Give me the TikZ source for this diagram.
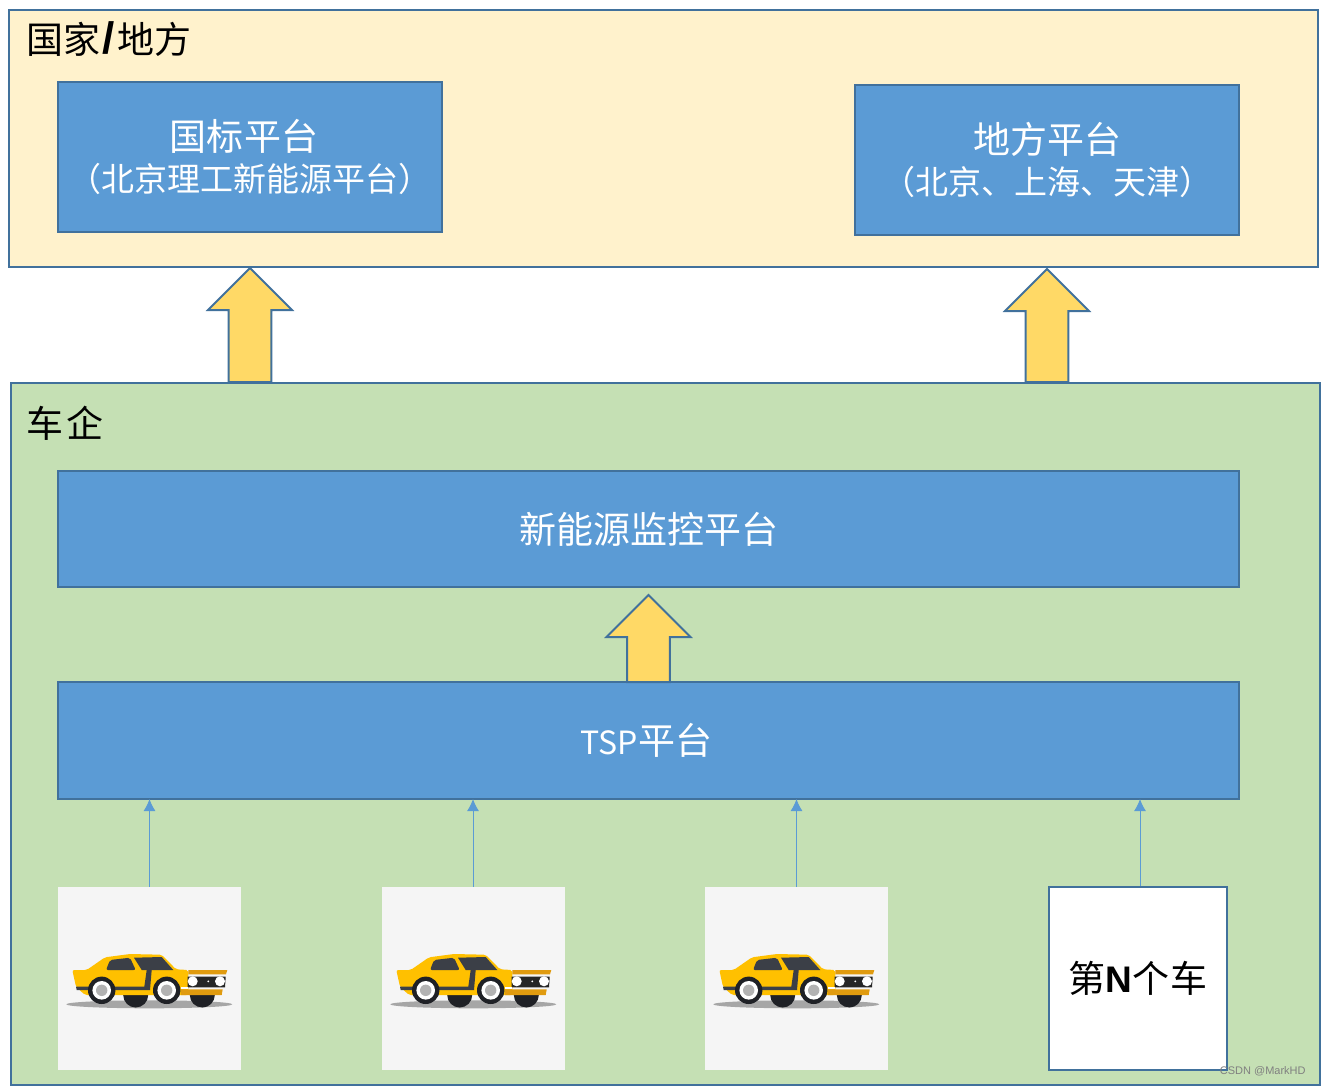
\documentclass[tikz,border=0pt]{standalone}
\usepackage{fontspec}
\setmainfont{Noto Sans CJK SC}
\newfontfamily\arialfont{Liberation Sans}
\usepackage{tikz}
\usetikzlibrary{arrows.meta}
\usetikzlibrary{shapes.arrows}
\definecolor{boxblue}{HTML}{5B9BD5}
\definecolor{edgeblue}{HTML}{41719C}
\definecolor{paleyellow}{HTML}{FFF2CC}
\definecolor{palegreen}{HTML}{C5E0B4}
\definecolor{arrowyellow}{HTML}{FFD966}
\definecolor{cargray}{HTML}{F5F5F5}
\definecolor{caryellow}{HTML}{FFC000}
\definecolor{carorange}{HTML}{E09B0F}
\definecolor{cardark}{HTML}{3B3F47}
\definecolor{tyre}{HTML}{1F2126}
\tikzset{
  area/.style = {draw = edgeblue, line width = 1pt},
  platform/.style = {area, fill = boxblue, text = white, align = center, inner sep = 0pt, outer sep = 0pt},
  carbox/.style = {minimum width = 91.5pt, minimum height = 91.5pt, inner sep = 0pt},
  bigarrow/.style = {area, fill = arrowyellow, single arrow, shape border rotate = 90, inner xsep = 10.2pt, inner ysep = 0pt, outer sep = 0pt,
    minimum width = 41pt, single arrow head extend = 10.3pt, single arrow tip angle = 90, single arrow head indent = 0pt, anchor = tip},
  carline/.style = {draw = boxblue, line width = 0.5pt, -{Latex[length = 6pt, width = 6pt]}},
  big/.style = {font = \fontsize{18.5}{22}\selectfont},
  label/.style = {anchor = west, big, inner sep = 0pt},
  car/.pic = {
    \fill[gray!70] (91.3,117.3) ellipse [x radius = 83, y radius = 4];
    \fill[tyre] (65.2,108) arc (180:0:12.5) -- cycle;
    \fill[tyre] (131.8,108) arc (180:0:12.5) -- cycle;
    \fill[caryellow, rounded corners = 1pt] (14.3,83) -- (28.7,83) -- (47,70.3) -- (72,67) -- (103.7,67.7) -- (118,82.3) -- (130.3,83)
      -- (130.3,108) -- (27,108) -- (18,99.7) -- cycle;
    \fill[cardark, rounded corners = 1pt] (48,83) -- (52,73) -- (72,70.7) -- (77.7,83) -- cycle;
    \fill[cardark] (76,70.7) -- (83.7,83) -- (88.7,83) -- (86.3,99.7) -- (18,99.7) -- (18.7,103) -- (92,103) -- (93.7,83)
      -- (115.3,83) -- (103.7,70) -- cycle;
    \fill[carorange] (130.3,83) -- (169.3,83) -- (168,87.3) -- (130.3,87.3) -- cycle;
    \fill[black!85] (129.7,89.7) -- (167.7,89.7) -- (167,100.3) -- (129.7,100.3) -- cycle;
    \fill[white] (123,100.3) rectangle (130.3,102.3);
    \fill[carorange] (123,102.3) -- (164.7,102.3) -- (163.7,108) -- (123,108) -- cycle;
    \fill[white] (134.7,94.3) circle (5);
    \fill[white] (162,94.3) circle (5);
    \fill[white] (150.3,94.3) circle (1);
    \fill[tyre] (43.7,103.3) circle (13.7);
    \fill[white] (43.7,103.3) circle (9.3);
    \fill[gray!60] (43.7,103.3) circle (5.7);
    \fill[tyre] (108.7,103.3) circle (13.7);
    \fill[white] (108.7,103.3) circle (9.3);
    \fill[gray!60] (108.7,103.3) circle (5.7);
  }
}

\begin{document}
\begin{tikzpicture}[x = 0.5pt, y = -0.5pt]
\useasboundingbox (0,0) rectangle (1321,1086);

\draw[area, fill = paleyellow] (9,10) rectangle (1318,267);
\draw[area, fill = palegreen] (11,383) rectangle (1320,1085);
\node[label] (guojia) at (26,39) {国家\hspace{1pt}{\arialfont\bfseries\fontsize{22}{22}\selectfont /}\hspace{1.5pt}地方};
\node[label] (cheqi) at (26,423) {车\hspace{1.5pt}企};

\node[platform, minimum width = 192pt, minimum height = 75pt] (guobiao) at (250,157) {{\fontsize{18.5}{24}\selectfont 国标平台\hspace{6pt}\mbox{}}\\[4pt]{\fontsize{16.5}{22}\selectfont （北京理工新能源平台）}};
\node[platform, minimum width = 192pt, minimum height = 75pt] (difang) at (1047,160) {{\fontsize{18.5}{24}\selectfont 地方平台}\\[4pt]{\fontsize{16.5}{22}\selectfont （北京、上海、天津）}};
\node[platform, big, minimum width = 590.5pt, minimum height = 58pt] (jiankong) at (648.5,529) {新能源监控平台};
\node[platform, big, minimum width = 590.5pt, minimum height = 58.5pt] (tsp) at (648.5,740.5) {{\fontsize{16}{22}\selectfont TSP}平台\hspace{2pt}\mbox{}};

\node[bigarrow, minimum height = 57pt] (up1) at (250,268) {};
\node[bigarrow, minimum height = 56.5pt] (up2) at (1047,269) {};
\node[bigarrow, minimum height = 43.5pt] (up3) at (648.5,595) {};

\node[carbox, fill = cargray] (car1) at (149.5,978.5) {};
\node[carbox, fill = cargray] (car2) at (473,978.5) {};
\node[carbox, fill = cargray] (car3) at (796.5,978.5) {};
\node[area, fill = white, big, minimum width = 89pt, minimum height = 91.5pt, inner sep = 0pt] (carn) at (1138,978.5) {第{\arialfont\bfseries N}个\hspace{0.5pt}车};
\pic at (58,887) {car};
\pic at (382,887) {car};
\pic at (705,887) {car};

\draw[carline] (car1.north) -- (car1.north |- tsp.south);
\draw[carline] (car2.north) -- (car2.north |- tsp.south);
\draw[carline] (car3.north) -- (car3.north |- tsp.south);
\draw[carline] ([xshift = 1pt]carn.north) -- ([xshift = 1pt]carn.north |- tsp.south);

\node[anchor = east, text = gray, inner sep = 0pt, font = \arialfont\fontsize{5.5}{6}\selectfont] (mark) at (1306,1071) {CSDN @MarkHD};
\end{tikzpicture}
\end{document}
